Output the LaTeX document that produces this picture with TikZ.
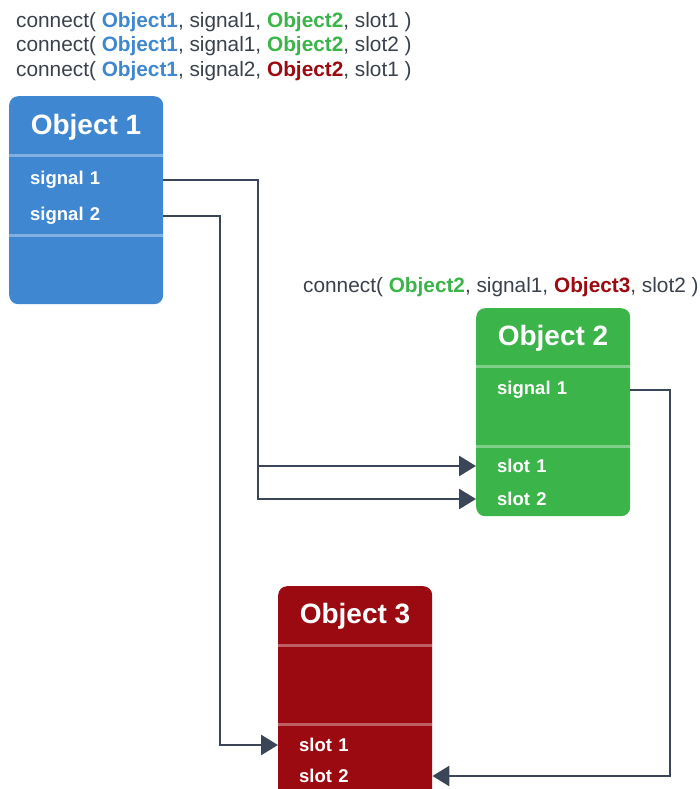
\documentclass[tikz,border=0pt]{standalone}
\usepackage{fontspec}
\setmainfont{Liberation Sans}
\usetikzlibrary{arrows.meta}
\definecolor{ob1}{HTML}{3F88D1}
\definecolor{ob2}{HTML}{3BB54A}
\definecolor{ob3}{HTML}{9B0A10}
\definecolor{txt}{HTML}{3A414C}
\definecolor{wire}{HTML}{3A4558}
\tikzset{
  objbox/.style={rounded corners=9pt, minimum width=154pt, inner sep=0pt, draw=none},
  title/.style={text=white, font=\fontsize{28}{30}\selectfont\bfseries, inner sep=0pt},
  row/.style={text=white, font=\fontsize{18.5}{20}\selectfont\bfseries, text width=112pt, inner xsep=21pt, inner ysep=0pt, align=left, anchor=west},
  divider/.style={white, opacity=0.35, line width=3pt},
  conn/.style={wire, line width=2.8pt, -{Triangle[length=17pt,width=20pt]}},
  code/.style={text=txt, font=\fontsize{20.8}{24}\selectfont, anchor=west, inner sep=0pt}
}
\begin{document}
\begin{tikzpicture}[x=1pt,y=1pt]
\useasboundingbox (0,0) rectangle (700,-789);
% code lines
\node[code] (c1) at (16,-22) {connect( \textbf{\textcolor{ob1}{Object1}}, signal1, \textbf{\textcolor{ob2}{Object2}}, slot1 )};
\node[code] (c2) at (16,-46.5) {connect( \textbf{\textcolor{ob1}{Object1}}, signal1, \textbf{\textcolor{ob2}{Object2}}, slot2 )};
\node[code] (c3) at (16,-71) {connect( \textbf{\textcolor{ob1}{Object1}}, signal2, \textbf{\textcolor{ob3}{Object2}}, slot1 )};
\node[code] (c4) at (303,-287) {connect( \textbf{\textcolor{ob2}{Object2}}, signal1, \textbf{\textcolor{ob3}{Object3}}, slot2 )};
% Object 1
\node[objbox, fill=ob1, minimum height=208pt, anchor=north west] (o1) at (9,-96) {};
\node[title] (o1t) at (86,-127) {Object 1};
\draw[divider] (9,-155) -- (163,-155);
\draw[divider] (9,-235) -- (163,-235);
\node[row] (o1s1) at (9,-180) {signal 1};
\node[row] (o1s2) at (9,-216) {signal 2};
% Object 2
\node[objbox, fill=ob2, minimum height=208pt, anchor=north west] (o2) at (476,-308) {};
\node[title] (o2t) at (553,-338) {Object 2};
\draw[divider] (476,-366) -- (630,-366);
\draw[divider] (476,-446) -- (630,-446);
\node[row] (o2s1) at (476,-390) {signal 1};
\node[row] (o2t1) at (476,-466) {slot 1};
\node[row] (o2t2) at (476,-499) {slot 2};
% Object 3
\node[objbox, fill=ob3, minimum height=216pt, anchor=north west] (o3) at (278,-586) {};
\node[title] (o3t) at (355,-616) {Object 3};
\draw[divider] (278,-645) -- (432,-645);
\draw[divider] (278,-724) -- (432,-724);
\node[row] (o3t1) at (278,-745) {slot 1};
\node[row] (o3t2) at (278,-776) {slot 2};
% routing columns
\coordinate (va) at (258,0);
\coordinate (vb) at (220,0);
\coordinate (vc) at (670,0);
% connectors
\draw[conn] (o1s1.east) -- (o1s1.east -| va) |- (o2t1.west);
\draw[conn] (o2t1.west -| va) |- (o2t2.west);
\draw[conn] (o1s2.east) -- (o1s2.east -| vb) |- (o3t1.west);
\draw[conn] (o2s1.east) -- (o2s1.east -| vc) |- (o3t2.east);
\end{tikzpicture}
\end{document}
